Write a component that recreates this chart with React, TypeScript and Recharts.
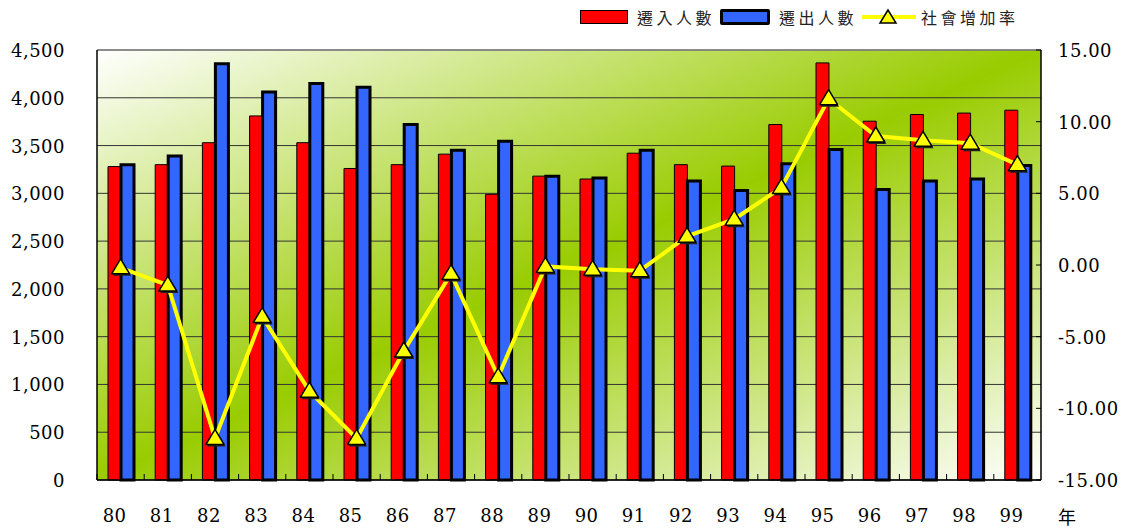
import {
  ComposedChart,
  Bar,
  Line,
  XAxis,
  YAxis,
  CartesianGrid,
  Legend,
  ReferenceLine,
  Label,
} from "recharts";

const years = [
  "80", "81", "82", "83", "84", "85", "86", "87", "88", "89",
  "90", "91", "92", "93", "94", "95", "96", "97", "98", "99",
];
const moveIn = [
  3280, 3300, 3530, 3810, 3530, 3260, 3300, 3410, 2990, 3180,
  3150, 3420, 3300, 3285, 3720, 4365, 3755, 3825, 3840, 3870,
];
const moveOut = [
  3300, 3390, 4355, 4060, 4150, 4110, 3720, 3450, 3545, 3180,
  3160, 3450, 3130, 3030, 3310, 3460, 3040, 3130, 3150, 3290,
];
const socialRate = [
  -0.2, -1.4, -12.1, -3.6, -8.8, -12.1, -6.0, -0.6, -7.8, -0.1,
  -0.3, -0.4, 2.0, 3.2, 5.4, 11.6, 9.0, 8.7, 8.5, 7.0,
];
const countTicks = [0, 500, 1000, 1500, 2000, 2500, 3000, 3500, 4000, 4500];
const rateTicks = [-15, -10, -5, 0, 5, 10, 15];

const chartData = years.map((year, i) => ({
  year,
  moveIn: moveIn[i],
  moveOut: moveOut[i],
  rate: socialRate[i],
}));

const NUM_FONT = "'DejaVu Serif', serif";
const CJK_FONT = "'Noto Sans CJK TC', 'Noto Sans CJK JP', sans-serif";

const numStyle = { fontFamily: NUM_FONT, fontSize: 18, letterSpacing: 0.5 };

const Triangle = ({ cx, cy }: { cx: number; cy: number }) => (
  <g>
    <polygon
      points={`${cx + 1.5},${cy - 7} ${cx - 7.5},${cy + 8} ${cx + 10.5},${cy + 8}`}
      fill="#222"
    />
    <polygon
      points={`${cx},${cy - 9} ${cx - 9},${cy + 6} ${cx + 9},${cy + 6}`}
      fill="#FFFF00"
      stroke="#000"
      strokeWidth={1.5}
      strokeLinejoin="round"
    />
  </g>
);

const LeftTick = ({ x, y, payload }: any) => (
  <text x={x} y={y} dy={7} textAnchor="end" style={numStyle} fill="#000">
    {Number(payload.value).toLocaleString("en-US")}
  </text>
);

const RightTick = ({ x, y, payload }: any) => (
  <g>
    <line x1={x - 17} x2={x - 22} y1={y} y2={y} stroke="#000" />
    <text x={x} y={y} dy={7} textAnchor="start" style={numStyle} fill="#000">
      {Number(payload.value).toFixed(2)}
    </text>
  </g>
);

const BottomTick = ({ x, y, payload }: any) => {
  const half = payload.offset || 23.6;
  return (
    <g>
      <line x1={x - half} x2={x - half} y1={y} y2={y - 6} stroke="#000" />
      <text
        x={x}
        y={y}
        dx={-6}
        dy={42}
        textAnchor="middle"
        style={numStyle}
        fill="#000"
      >
        {payload.value}
      </text>
    </g>
  );
};

const renderLegend = () => (
  <div
    style={{
      display: "flex",
      alignItems: "center",
      fontFamily: CJK_FONT,
      fontSize: 16,
      letterSpacing: 3.5,
      color: "#222",
      whiteSpace: "nowrap",
      lineHeight: "24px",
    }}
  >
    <span
      style={{
        width: 46,
        height: 12,
        background: "#FF0000",
        border: "1px solid #000",
        marginRight: 9,
      }}
    />
    <span style={{ marginRight: 5 }}>遷入人數</span>
    <span
      style={{
        width: 44,
        height: 10,
        background: "#3366FF",
        border: "3px solid #000",
        borderRadius: 2,
        marginRight: 9,
      }}
    />
    <span style={{ marginRight: 5 }}>遷出人數</span>
    <svg width={54} height={20} style={{ marginRight: 5 }}>
      <line x1={0} x2={54} y1={10} y2={10} stroke="#FFFF00" strokeWidth={4} />
      <polygon
        points="26,3 18,16 34,16"
        fill="#FFFF00"
        stroke="#000"
        strokeWidth={1.5}
      />
    </svg>
    <span>社會增加率</span>
  </div>
);

export default function App() {
  return (
    <div
      style={{
        position: "absolute",
        left: 0,
        top: 0,
        width: 1133,
        height: 530,
        background: "#fff",
      }}
    >
      <ComposedChart
        width={1133}
        height={530}
        data={chartData}
        margin={{ top: 50, right: 7, bottom: 10, left: 7 }}
        barGap={0}
      >
        <defs>
          <linearGradient id="plotBg" x1="0" y1="0" x2="1" y2="1">
            <stop offset="0%" stopColor="#ffffff" />
            <stop offset="50%" stopColor="#99CC00" />
            <stop offset="100%" stopColor="#ffffff" />
          </linearGradient>
        </defs>
        <CartesianGrid
          yAxisId="left"
          vertical={false}
          stroke="#333"
          fill="url(#plotBg)"
          fillOpacity={1}
        />
        <XAxis
          dataKey="year"
          height={40}
          tickSize={0}
          tickMargin={0}
          tick={<BottomTick />}
          axisLine={{ stroke: "#000", strokeWidth: 1.5 }}
          tickLine={false}
          interval={0}
        >
          <Label
            content={({ viewBox }: any) => (
              <text
                x={viewBox.x + viewBox.width + 17}
                y={viewBox.y + 44}
                style={{ fontFamily: CJK_FONT, fontSize: 18 }}
                fill="#000"
              >
                年
              </text>
            )}
          />
        </XAxis>
        <YAxis
          yAxisId="left"
          orientation="left"
          width={90}
          domain={[0, 4500]}
          ticks={countTicks}
          interval={0}
          tickSize={0}
          tickMargin={32}
          tick={<LeftTick />}
          tickLine={false}
          axisLine={{ stroke: "#000", strokeWidth: 1.5 }}
        />
        <YAxis
          yAxisId="right"
          orientation="right"
          width={85}
          domain={[-15, 15]}
          ticks={rateTicks}
          interval={0}
          tickSize={0}
          tickMargin={17}
          tick={<RightTick />}
          tickLine={false}
          axisLine={{ stroke: "#000", strokeWidth: 1.5 }}
        />
        <ReferenceLine yAxisId="left" y={4500} stroke="#888" strokeWidth={1.5} />
        <Legend
          layout="vertical"
          align="center"
          verticalAlign="middle"
          content={renderLegend}
          wrapperStyle={{ left: 580, top: 5, width: "auto" }}
        />
        <Bar
          yAxisId="left"
          dataKey="moveIn"
          fill="#FF0000"
          stroke="#000"
          strokeWidth={1}
          barSize={13}
          isAnimationActive={false}
        />
        <Bar
          yAxisId="left"
          dataKey="moveOut"
          fill="#3366FF"
          stroke="#000"
          strokeWidth={3}
          barSize={13}
          isAnimationActive={false}
        />
        <Line
          yAxisId="right"
          dataKey="rate"
          stroke="#FFFF00"
          strokeWidth={4}
          isAnimationActive={false}
          dot={(p: any) => <Triangle key={p.index} cx={p.cx} cy={p.cy} />}
          activeDot={false}
        />
      </ComposedChart>
    </div>
  );
}
